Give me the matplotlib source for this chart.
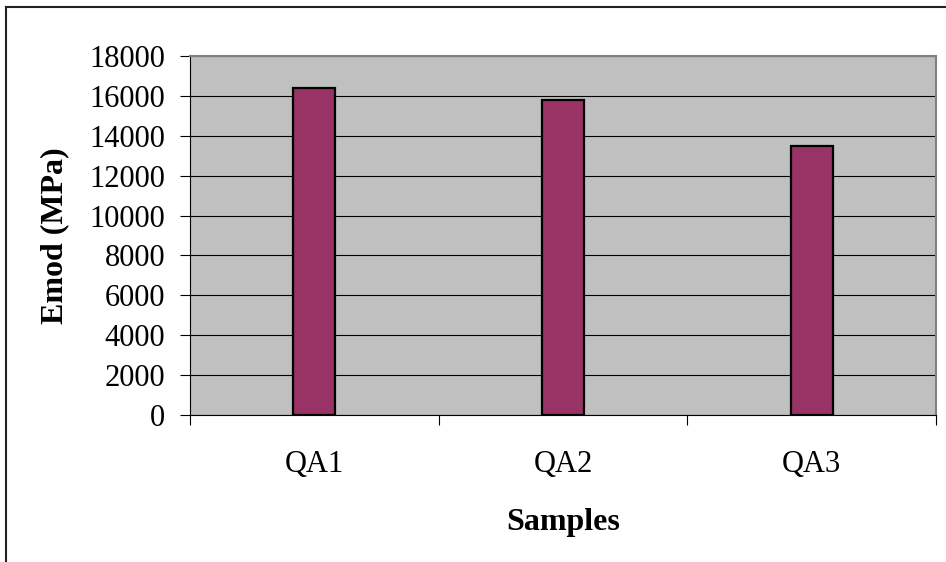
import matplotlib.pyplot as plt
import matplotlib.ticker as mticker
import numpy as np
from matplotlib.lines import Line2D

# Elastic modulus per sample
samples = ["QA1", "QA2", "QA3"]
emod = [16400, 15800, 13500]

plt.rcParams["font.family"] = ["Liberation Serif", "DejaVu Serif"]

fig = plt.figure(figsize=(9.46, 5.62), dpi=100)
ax = fig.add_axes([190 / 946, 147 / 562, 746 / 946, 359 / 562])

x = np.arange(len(samples))
ax.bar(x, emod, width=0.17, color="#993366", edgecolor="black",
       linewidth=1.6, zorder=3)

ax.set_facecolor("#C0C0C0")
ax.set_xlim(-0.5, len(samples) - 0.5)
ax.set_ylim(0, 18000)
ax.yaxis.set_major_locator(mticker.MultipleLocator(2000))
ax.grid(axis="y", color="black", linewidth=0.8, zorder=1)
ax.set_axisbelow(True)

# category labels centred, tick marks on the boundaries
ax.set_xticks(x)
ax.set_xticklabels(samples)
ax.set_xticks(np.arange(len(samples) + 1) - 0.5, minor=True)
ax.tick_params(axis="x", which="major", length=0, pad=25, labelsize=22)
ax.tick_params(axis="x", which="minor", length=7, width=0.8, direction="out")
ax.tick_params(axis="y", length=7, width=0.8, pad=11, labelsize=22)

for side in ["top", "right"]:
    ax.spines[side].set_color("#808080")
    ax.spines[side].set_linewidth(1.5)
for side in ["left", "bottom"]:
    ax.spines[side].set_color("black")
    ax.spines[side].set_linewidth(0.8)

ax.set_xlabel("Samples", fontsize=23, fontweight="bold", labelpad=21)
ax.set_ylabel("Emod (MPa)", fontsize=23, fontweight="bold", labelpad=14)

# chart border
fig.add_artist(Line2D([6 / 946, 1], [1 - 7 / 562, 1 - 7 / 562],
                      color="#222222", linewidth=1.5))
fig.add_artist(Line2D([6 / 946, 6 / 946], [0, 1 - 7 / 562],
                      color="#222222", linewidth=1.5))

fig.savefig("out.png", dpi=100, facecolor="white")
